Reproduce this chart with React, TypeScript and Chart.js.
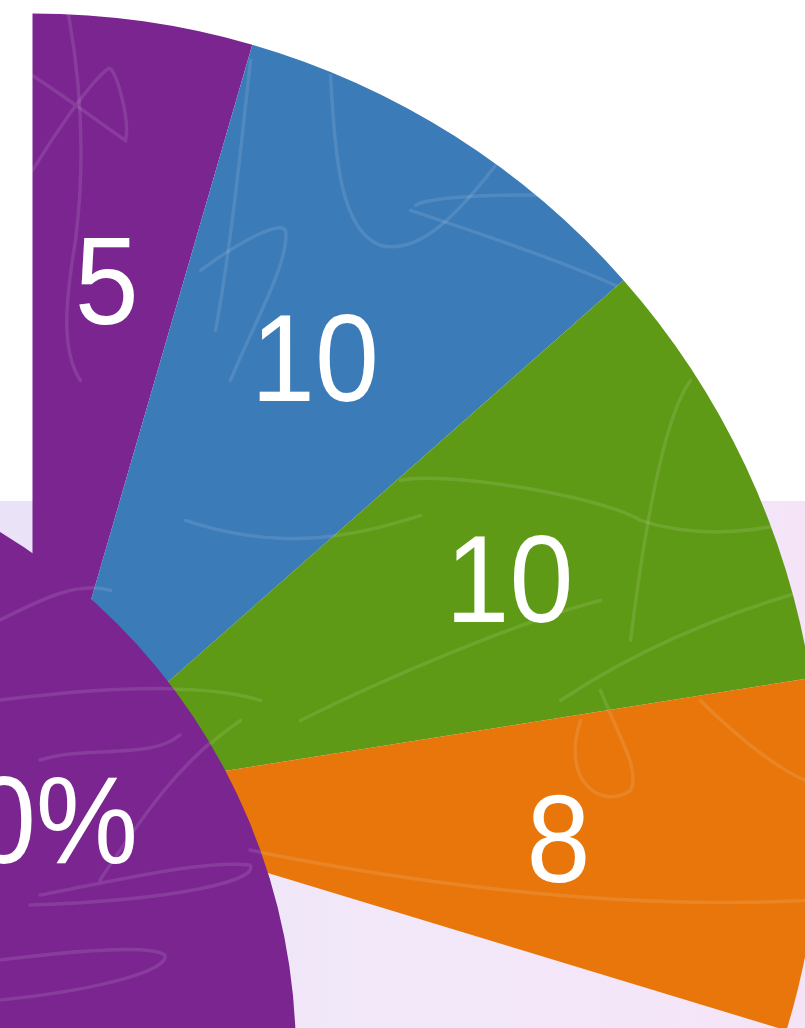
import React, { useEffect, useRef } from "react";
import { Chart, registerables } from "chart.js";

Chart.register(...registerables);

// ---- data ----
const categories = ["A", "B", "C", "D"];
const values = [5, 10, 10, 8];
const sliceColors = ["#7A2590", "#3B7BB8", "#5E9A15", "#E8760B"];
const shareCategories = ["Share"];
const shareValues = [100];
const shareLabel = "50%";
const shareColors = ["#7A2590"];

// ---- layout constants ----
const PAGE_W = 805;
const PAGE_H = 1028;
const PIE_R = 788;
const PIE_CX = 32;
const PIE_CY = 801;
const PIE_CIRC = 106.9; // degrees used by the visible slices
const CIRCLE_R = 612;
const CIRCLE_CX = -316;
const CIRCLE_CY = 1056;
const FONT = '"Liberation Sans", Arial, Helvetica, sans-serif';
const FONT_SIZE = 125;
const TEXT_SX = 0.92;

// decorative scribble texture (page coordinates, cubic bezier chains)
const SCRIBBLES: number[][] = [
  [32, 75, 70, 100, 110, 130, 125, 140, 130, 120, 115, 65, 108, 68, 90, 80, 50, 140, 32, 170],
  [68, 14, 80, 80, 85, 160, 75, 240, 65, 300, 60, 350, 80, 380],
  [250, 60, 240, 150, 230, 250, 215, 330],
  [330, 75, 335, 160, 340, 230, 380, 245, 420, 255, 460, 210, 495, 165],
  [415, 205, 430, 195, 520, 193, 560, 196],
  [410, 210, 470, 230, 560, 260, 615, 285],
  [200, 270, 240, 240, 280, 220, 285, 230, 290, 260, 250, 330, 230, 380],
  [185, 520, 260, 545, 330, 545, 420, 515],
  [400, 480, 440, 470, 600, 495, 640, 520, 700, 540, 760, 530, 800, 520],
  [560, 700, 620, 660, 700, 620, 805, 590],
  [630, 640, 640, 560, 660, 420, 690, 380],
  [300, 720, 380, 680, 520, 620, 600, 600],
  [250, 850, 400, 880, 600, 910, 805, 900],
  [600, 690, 620, 740, 640, 770, 630, 790, 600, 810, 560, 780, 580, 720],
  [700, 700, 740, 740, 780, 770, 805, 780],
  [0, 700, 80, 690, 200, 680, 260, 700],
  [40, 895, 120, 880, 200, 860, 250, 865, 260, 880, 180, 900, 30, 905],
  [0, 960, 80, 950, 150, 945, 165, 955, 170, 970, 100, 990, 0, 1000],
  [100, 880, 140, 820, 180, 760, 240, 720],
  [0, 620, 40, 600, 80, 580, 110, 590],
  [40, 760, 90, 745, 150, 760, 180, 735],
];

const TAU = Math.PI * 2;

function ratioOffset(rotDeg: number, circDeg: number) {
  const s = ((rotDeg - 90) * Math.PI) / 180;
  const e = s + (circDeg * Math.PI) / 180;
  const inside = (a: number) => {
    let d = (((a - s) % TAU) + TAU) % TAU;
    if (d > TAU - 1e-9) d = 0;
    return d <= e - s + 1e-9;
  };
  const sx = Math.cos(s), sy = Math.sin(s), ex = Math.cos(e), ey = Math.sin(e);
  const maxX = inside(0) ? 1 : Math.max(sx, 0, ex);
  const maxY = inside(Math.PI / 2) ? 1 : Math.max(sy, 0, ey);
  const minX = inside(Math.PI) ? -1 : Math.min(sx, 0, ex);
  const minY = inside(1.5 * Math.PI) ? -1 : Math.min(sy, 0, ey);
  return { ox: -(maxX + minX) / 2, oy: -(maxY + minY) / 2 };
}

function drawTexture(chart: any, pageLeft: number, pageTop: number) {
  const ctx = chart.ctx;
  const meta = chart.getDatasetMeta(0);
  ctx.save();
  ctx.beginPath();
  meta.data.forEach((arc: any) => {
    const { x, y, startAngle, endAngle, outerRadius } = arc.getProps(
      ["x", "y", "startAngle", "endAngle", "outerRadius"],
      true
    );
    ctx.moveTo(x, y);
    ctx.arc(x, y, outerRadius, startAngle, endAngle);
    ctx.closePath();
  });
  ctx.clip();
  ctx.translate(-pageLeft, -pageTop);
  ctx.strokeStyle = "rgba(255,255,255,0.11)";
  ctx.lineWidth = 3.5;
  ctx.lineCap = "round";
  SCRIBBLES.forEach((p) => {
    ctx.beginPath();
    ctx.moveTo(p[0], p[1]);
    for (let i = 2; i + 5 < p.length; i += 6) {
      ctx.bezierCurveTo(p[i], p[i + 1], p[i + 2], p[i + 3], p[i + 4], p[i + 5]);
    }
    ctx.stroke();
  });
  ctx.restore();
}

function drawScaledText(ctx: any, text: string, x: number, y: number, align: string) {
  ctx.save();
  ctx.translate(x, y);
  ctx.scale(TEXT_SX, 1);
  ctx.fillStyle = "#ffffff";
  ctx.font = `${FONT_SIZE}px ${FONT}`;
  ctx.textAlign = align;
  ctx.textBaseline = "alphabetic";
  ctx.fillText(text, 0, 0);
  ctx.restore();
}

export default function App() {
  const pieRef = useRef<HTMLCanvasElement>(null);
  const circleRef = useRef<HTMLCanvasElement>(null);

  const { ox, oy } = ratioOffset(0, PIE_CIRC);
  const pieLeft = PIE_CX - PAGE_W / 2 - ox * PIE_R;
  const pieTop = PIE_CY - PAGE_H / 2 - oy * PIE_R;
  const circLeft = CIRCLE_CX - CIRCLE_R;
  const circTop = CIRCLE_CY - CIRCLE_R;

  useEffect(() => {
    if (!pieRef.current || !circleRef.current) return;

    const sliceLabelPlugin = {
      id: "sliceLabels",
      afterDatasetsDraw(chart: any) {
        drawTexture(chart, pieLeft, pieTop);
        const meta = chart.getDatasetMeta(0);
        meta.data.forEach((arc: any, i: number) => {
          const { x, y, startAngle, endAngle, outerRadius } = arc.getProps(
            ["x", "y", "startAngle", "endAngle", "outerRadius"],
            true
          );
          const mid = (startAngle + endAngle) / 2;
          const r = outerRadius * 0.669;
          const tx = x + Math.cos(mid) * r;
          const ty = y + Math.sin(mid) * r;
          drawScaledText(
            chart.ctx,
            String(chart.data.datasets[0].data[i]),
            tx,
            ty + FONT_SIZE * 0.358,
            "center"
          );
        });
      },
    };

    const shareLabelPlugin = {
      id: "shareLabel",
      afterDatasetsDraw(chart: any) {
        drawTexture(chart, circLeft, circTop);
        const arc = chart.getDatasetMeta(0).data[0];
        if (!arc) return;
        const { x, y, outerRadius } = arc.getProps(["x", "y", "outerRadius"], true);
        drawScaledText(chart.ctx, shareLabel, x + outerRadius * 0.742, y - outerRadius * 0.315, "right");
      },
    };

    const pie = new Chart(pieRef.current, {
      type: "pie",
      data: {
        labels: categories,
        datasets: [
          {
            data: values,
            backgroundColor: sliceColors,
            borderWidth: 0,
            hoverOffset: 0,
          },
        ],
      },
      options: {
        responsive: false,
        animation: false,
        rotation: 0,
        circumference: PIE_CIRC,
        radius: PIE_R,
        layout: { padding: 0 },
        events: [],
        plugins: { legend: { display: false }, tooltip: { enabled: false } },
      },
      plugins: [sliceLabelPlugin],
    } as any);

    const circle = new Chart(circleRef.current, {
      type: "pie",
      data: {
        labels: shareCategories,
        datasets: [
          {
            data: shareValues,
            backgroundColor: shareColors,
            borderWidth: 0,
            hoverOffset: 0,
          },
        ],
      },
      options: {
        responsive: false,
        animation: false,
        radius: CIRCLE_R,
        layout: { padding: 0 },
        events: [],
        plugins: { legend: { display: false }, tooltip: { enabled: false } },
      },
      plugins: [shareLabelPlugin],
    } as any);

    return () => {
      pie.destroy();
      circle.destroy();
    };
  }, []);

  return (
    <div
      style={{
        position: "fixed",
        left: 0,
        top: 0,
        width: PAGE_W,
        height: PAGE_H,
        overflow: "hidden",
        background: "#ffffff",
      }}
    >
      <div
        style={{
          position: "absolute",
          left: 0,
          top: 501,
          width: PAGE_W,
          height: PAGE_H - 501,
          background: "linear-gradient(90deg, #EAE3F8 0%, #F2E8F9 50%, #F5E4F8 100%)",
        }}
      />
      <canvas
        ref={pieRef}
        width={PAGE_W}
        height={PAGE_H}
        style={{
          position: "absolute",
          left: pieLeft,
          top: pieTop,
          width: PAGE_W,
          height: PAGE_H,
        }}
      />
      <canvas
        ref={circleRef}
        width={CIRCLE_R * 2}
        height={CIRCLE_R * 2}
        style={{
          position: "absolute",
          left: circLeft,
          top: circTop,
          width: CIRCLE_R * 2,
          height: CIRCLE_R * 2,
        }}
      />
    </div>
  );
}
